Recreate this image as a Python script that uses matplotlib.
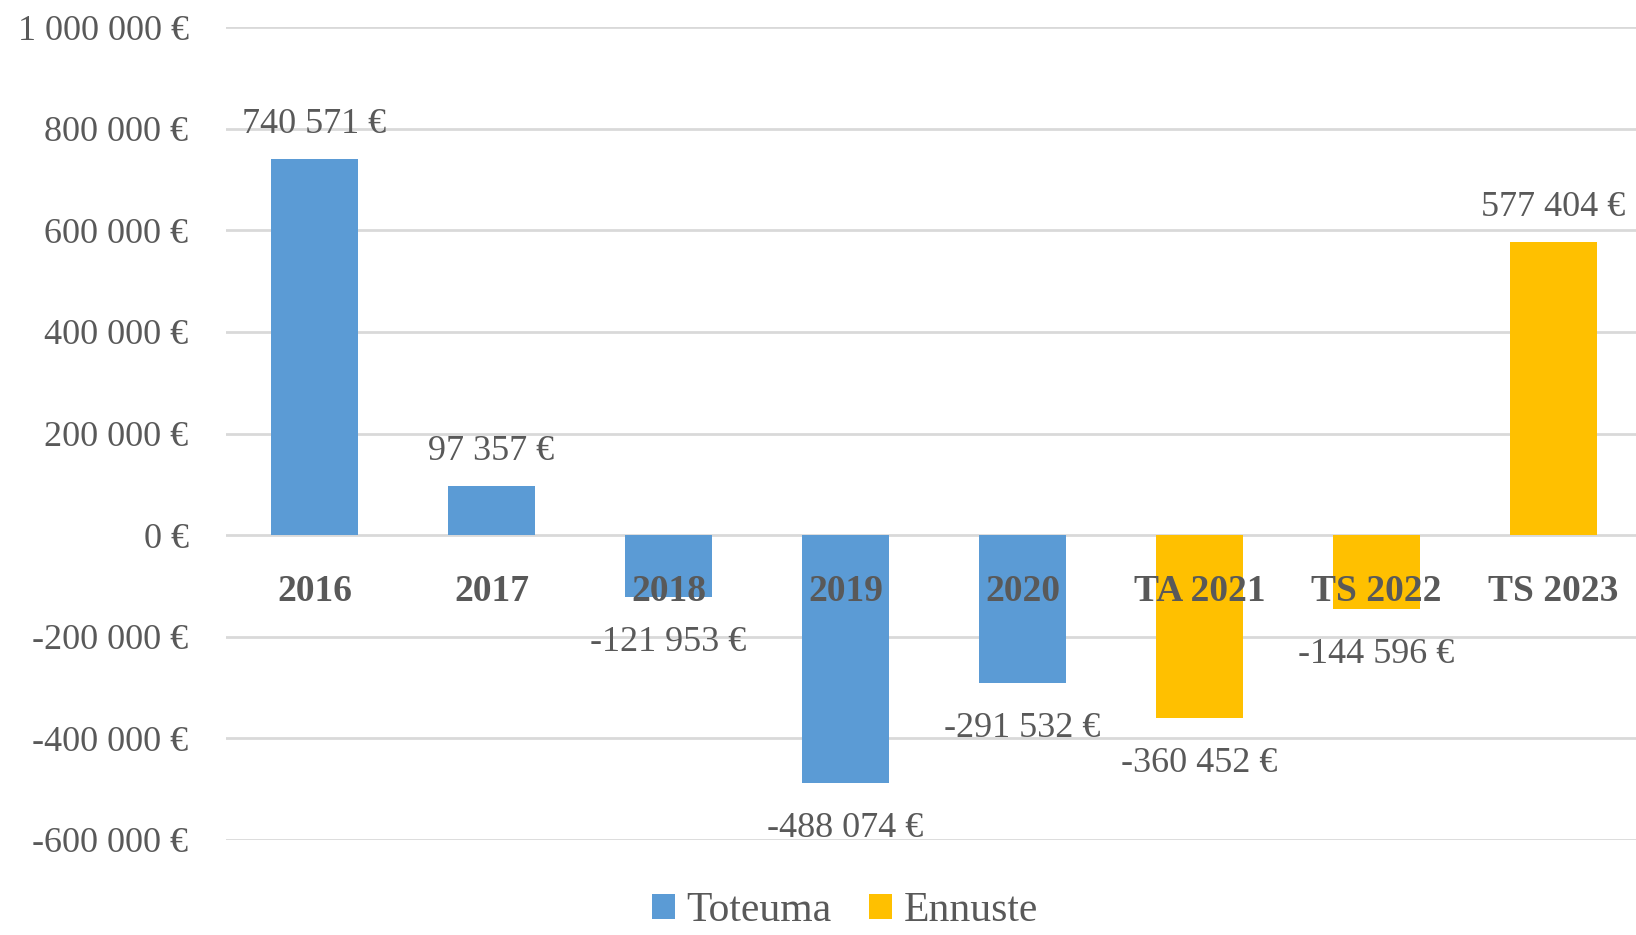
import matplotlib
matplotlib.use("Agg")
import matplotlib.pyplot as plt
from matplotlib.ticker import FixedLocator
from matplotlib.patches import Patch

categories = ["2016", "2017", "2018", "2019", "2020", "TA 2021", "TS 2022", "TS 2023"]
values = [740571, 97357, -121953, -488074, -291532, -360452, -144596, 577404]
series = ["Toteuma", "Toteuma", "Toteuma", "Toteuma", "Toteuma", "Ennuste", "Ennuste", "Ennuste"]
value_labels = ["740 571 €", "97 357 €", "-121 953 €", "-488 074 €", "-291 532 €",
                "-360 452 €", "-144 596 €", "577 404 €"]
y_ticks = [-600000, -400000, -200000, 0, 200000, 400000, 600000, 800000, 1000000]
y_tick_labels = ["-600 000 €", "-400 000 €", "-200 000 €", "0 €", "200 000 €",
                 "400 000 €", "600 000 €", "800 000 €", "1 000 000 €"]
legend_names = ["Toteuma", "Ennuste"]

colors = {"Toteuma": "#5B9BD5", "Ennuste": "#FFC000"}
text_color = "#595959"
grid_color = "#D9D9D9"
FONT = "Liberation Serif"
FS = 26

W, H = 1636, 935
fig = plt.figure(figsize=(W / 100, H / 100), dpi=100)
left, right = 226 / W, 1642 / W
top, bottom = 1 - 27 / H, 1 - 840 / H
ax = fig.add_axes([left, bottom, right - left, top - bottom])

x = list(range(len(categories)))
ax.bar(x, values, width=0.495, color=[colors[s] for s in series], zorder=2)

ax.set_xlim(-0.5, len(categories) - 0.5)
ax.set_ylim(y_ticks[0], y_ticks[-1])
ax.yaxis.set_major_locator(FixedLocator(y_ticks))
ax.set_yticklabels(y_tick_labels, fontfamily=FONT, fontsize=FS, color=text_color)
ax.tick_params(axis="y", length=0, pad=27)
ax.set_xticks([])
for s in ax.spines.values():
    s.set_visible(False)
ax.grid(axis="y", color=grid_color, linewidth=2.0, zorder=0)
ax.set_axisbelow(True)

# category labels at the zero line
for xi, cat in zip(x, categories):
    ax.annotate(cat, (xi, 0), xytext=(0, -40.5), textcoords="offset points",
                ha="center", va="center", fontfamily=FONT, fontsize=27,
                fontweight="bold", color=text_color, zorder=5)

# data labels
for xi, v, lab in zip(x, values, value_labels):
    if v >= 0:
        ax.annotate(lab, (xi, v), xytext=(0, 13), textcoords="offset points",
                    ha="center", va="bottom", fontfamily=FONT, fontsize=FS,
                    color=text_color, zorder=5)
    else:
        ax.annotate(lab, (xi, v), xytext=(0, -21), textcoords="offset points",
                    ha="center", va="top", fontfamily=FONT, fontsize=FS,
                    color=text_color, zorder=5)

handles = [Patch(facecolor=colors[n], edgecolor="none", label=n) for n in legend_names]
fig.legend(handles=handles, loc="center", bbox_to_anchor=(845 / W, 1 - 911 / H),
           ncol=2, frameon=False, prop={"family": FONT, "size": 30},
           labelcolor=text_color, handlelength=0.55, handleheight=0.55,
           handletextpad=0.28, columnspacing=0.9, borderpad=0)

fig.savefig("out.png", dpi=100, facecolor="white")
